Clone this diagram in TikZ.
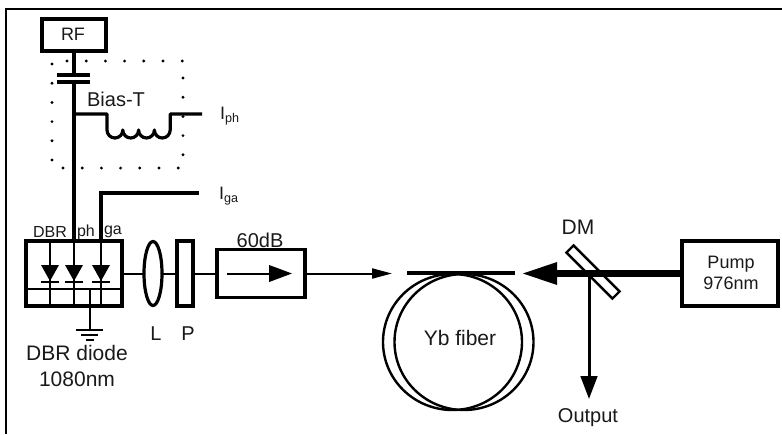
\documentclass[tikz,border=0pt]{standalone}
\usepackage{fontspec}
\setmainfont{Liberation Sans}
\usetikzlibrary{arrows.meta}
\tikzset{
    box/.style={draw, line width=3.2pt, inner sep=0pt, outer sep=0pt, anchor=north west},
    wire/.style={line width=3.2pt},
    thin wire/.style={line width=2pt},
    beam/.style={line width=2pt},
    label/.style={inner sep=0pt, text=black!90, font=\fontsize{20}{21}\selectfont},
    small/.style={label, font=\fontsize{16}{18}\selectfont},
    dotted box/.style={line width=3.2pt, line cap=round, dash pattern=on 0pt off 19.2pt},
    heavy/.style={-{Triangle[length=#1, width=#1*0.72]}},
}
\begin{document}
\begin{tikzpicture}[x=1pt, y=-1pt]
    \useasboundingbox (0,0) rectangle (782,434);
    \draw[line width=2.4pt] (6,434)--(6,9)--(782,9);
    % RF and bias-T
    \node[box, minimum width=64pt, minimum height=32pt] (rf) at (42,19) {};
    \node[label, font=\fontsize{18}{20}\selectfont] at (73,34) {RF};
    \coordinate (capTop) at (74,75);
    \coordinate (capBot) at (74,82);
    \coordinate (tee) at (74,114);
    \draw[wire] (rf.south -| capTop)--(capTop);
    \draw[wire] (57,75)--(90,75);
    \draw[wire] (57,82)--(90,82);
    \draw[dotted box] (52,64)--(52,160.5);
    \draw[dotted box] (63,168)--(178.5,168);
    \draw[dotted box] (67,61)--(182.5,61);
    \draw[dotted box] (183,78)--(183,155.5);
    \node[label] (biasT) at (116,99) {Bias-T};
    \node[label, font=\fontsize{18}{20}\selectfont, anchor=west] (iph) at (220,116) {I\textsubscript{ph}};
    \node[label, font=\fontsize{18}{20}\selectfont, anchor=west] (iga) at (219,196) {I\textsubscript{ga}};
    \coordinate (iphEnd) at (202,114);
    \draw[wire, line join=round] (tee)--(107,114)--(107,130)
        arc[start angle=180, end angle=360, x radius=7.9pt, y radius=8pt]
        arc[start angle=180, end angle=360, x radius=7.9pt, y radius=8pt]
        arc[start angle=180, end angle=360, x radius=7.9pt, y radius=8pt]
        arc[start angle=180, end angle=360, x radius=7.9pt, y radius=8pt]
        --(170.2,114)--(iphEnd);
    % diode box
    \node[box, minimum width=96pt, minimum height=65pt] (diode) at (26,241) {};
    \node[small] at (50,232) {DBR};
    \node[small] at (86,232) {ph};
    \node[small] at (113,232) {ga};
    \draw[wire] (capBot)--(74,241);
    \draw[wire] (101,241)--(101,193)--(199,193);
    \foreach \x in {50,74,101}{
        \draw[thin wire] (\x,241)--(\x,305);
        \fill (\x-9,265)--(\x+9,265)--(\x,281)--cycle;
        \draw[thin wire] (\x-9,282)--(\x+9,282);
    }
    \draw[thin wire] (26,289)--(122,289);
    \draw[thin wire] (90,289)--(90,330);
    \draw[thin wire] (76,330)--(103,330);
    \draw[thin wire] (81,335)--(98,335);
    \draw[thin wire] (86,340)--(94,340);
    \node[label, align=center, font=\fontsize{21}{26}\selectfont] at (77,366) {DBR diode\\1080nm};
    % free space part
    \draw[wire] (153,273.5) ellipse[x radius=9pt, y radius=32pt];
    \node[box, minimum width=16pt, minimum height=65pt] (pol) at (177,241) {};
    \node[box, minimum width=88pt, minimum height=48pt] (iso) at (217,249.5) {};
    \node[label] at (156,334) {L};
    \node[label] at (188,334) {P};
    \node[label] at (260,240) {60dB};
    \draw[beam] (diode.east)--(144,273.5);
    \draw[beam] (162,273.5)--(pol.west);
    \draw[beam] (pol.east)--(iso.west);
    \draw[line width=2pt, heavy=23pt] (227,273.5)--(292,273.5);
    \draw[beam, -{Triangle[length=20pt, width=10pt]}] (iso.east)--(392,273.5);
    % fiber
    \draw[wire] (407,273)--(515,273);
    \draw[line width=2.4pt] (452.5,342) ellipse[x radius=69.5pt, y radius=68pt];
    \draw[line width=2.4pt] (464,342) ellipse[x radius=69.5pt, y radius=68pt];
    \node[label, font=\fontsize{21}{23}\selectfont] at (460,338) {Yb fiber};
    % pump side
    \node[box, minimum width=96pt, minimum height=65pt] (pump) at (682,241) {};
    \node[label, align=center, font=\fontsize{18}{21}\selectfont] at (731,273) {Pump\\976nm};
    \path (pump.west) ++(-159,0) coordinate (tip);
    \path (tip) ++(27,0) coordinate (beamEnd);
    \draw[line width=6.5pt] (pump.west)--(beamEnd);
    \fill (tip)--([yshift=-11.5pt]tip -| 557,0)--([yshift=11.5pt]tip -| 557,0)--cycle;
    \node[draw, line width=2.4pt, minimum width=65pt, minimum height=10pt, inner sep=0pt, rotate=-45] (dm) at (593,272) {};
    \node[label, font=\fontsize{21}{23}\selectfont] at (578,227) {DM};
    \draw[line width=3pt, heavy=23pt] (589,273)--(589,399);
    \node[label] at (588,418) {Output};
\end{tikzpicture}
\end{document}
